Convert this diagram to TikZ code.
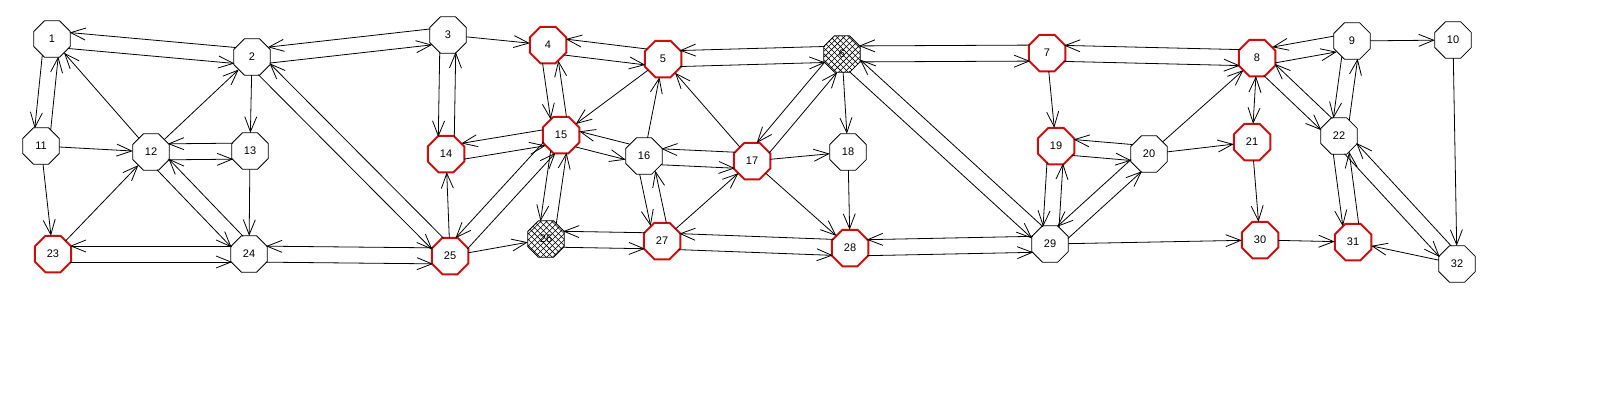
\documentclass[tikz,border=0pt]{standalone}
\usepackage{fontspec}
\setmainfont{Liberation Sans}
\usetikzlibrary{arrows.meta,calc,shapes.geometric,patterns.meta}
\definecolor{nodered}{RGB}{200,16,16}
\newcommand\dbl[2]{%
  \draw[sedge] ($(#1)!8pt!-90:(#2)$) -- ($(#2)!8pt!90:(#1)$);
  \draw[sedge] ($(#2)!8pt!-90:(#1)$) -- ($(#1)!8pt!90:(#2)$);}
\newcommand\sgl[2]{\draw[edge] (#1) -- (#2);}
\begin{document}
\begin{tikzpicture}[x=1pt,y=-1pt,
  oct/.style={regular polygon,regular polygon sides=8,minimum size=39.5pt,inner sep=0pt,outer sep=0pt,
    draw=black,line width=0.8pt,fill=white,font=\fontsize{11}{13}\selectfont},
  redoct/.style={oct,draw=nodered,line width=2pt},
  hatchoct/.style={oct,preaction={fill=white},pattern={Hatch[angle=45,distance=4.2pt,line width=0.55pt]}},
  edge/.style={-{Straight Barb[length=15pt,width=12pt]},line width=0.8pt},
  sedge/.style={edge,shorten >=16.9pt,shorten <=16.9pt}]
\useasboundingbox[fill=white] (0,0) rectangle (1600,400);
% nodes
\node[oct]    (n1)  at (52,39)   {1};
\node[oct]    (n2)  at (252,57)  {2};
\node[oct]    (n3)  at (448,35)  {3};
\node[redoct] (n4)  at (548,45)  {4};
\node[redoct] (n5)  at (663,59)  {5};
\node[hatchoct] (n6) at (842,54) {6};
\node[redoct] (n7)  at (1047,53) {7};
\node[redoct] (n8)  at (1257,58) {8};
\node[oct]    (n9)  at (1352,41) {9};
\node[oct]    (n10) at (1453,40) {10};
\node[oct]    (n11) at (41,146)  {11};
\node[oct]    (n12) at (151,152) {12};
\node[oct]    (n13) at (250,151) {13};
\node[redoct] (n14) at (446,154) {14};
\node[redoct] (n15) at (561,135) {15};
\node[oct]    (n16) at (644,156) {16};
\node[redoct] (n17) at (752,161) {17};
\node[oct]    (n18) at (848,152) {18};
\node[redoct] (n19) at (1056,146) {19};
\node[oct]    (n20) at (1149,154) {20};
\node[redoct] (n21) at (1252,142) {21};
\node[oct]    (n22) at (1339,136) {22};
\node[redoct] (n23) at (53,254)  {23};
\node[oct]    (n24) at (249,254) {24};
\node[redoct] (n25) at (450,256) {25};
\node[hatchoct] (n26) at (546,239) {26};
\node[redoct] (n27) at (662,241) {27};
\node[redoct] (n28) at (850,248) {28};
\node[oct]    (n29) at (1050,244) {29};
\node[redoct] (n30) at (1260,240) {30};
\node[redoct] (n31) at (1353,242) {31};
\node[oct]    (n32) at (1457,264) {32};
% two-way links
\dbl{n1}{n2} \dbl{n2}{n3} \dbl{n1}{n11} \dbl{n12}{n13} \dbl{n12}{n24}
\dbl{n23}{n24} \dbl{n2}{n25} \dbl{n24}{n25} \dbl{n3}{n14} \dbl{n4}{n5}
\dbl{n4}{n15} \dbl{n5}{n6} \dbl{n14}{n15} \dbl{n15}{n25} \dbl{n15}{n26}
\dbl{n15}{n16} \dbl{n16}{n17} \dbl{n16}{n27} \dbl{n17}{n6} \dbl{n26}{n27}
\dbl{n27}{n28} \dbl{n6}{n29} \dbl{n6}{n7} \dbl{n7}{n8} \dbl{n19}{n20}
\dbl{n19}{n29} \dbl{n20}{n29} \dbl{n28}{n29} \dbl{n8}{n9} \dbl{n9}{n22}
\dbl{n8}{n22} \dbl{n22}{n31} \dbl{n22}{n32}
% one-way links
\sgl{n12}{n1} \sgl{n11}{n12} \sgl{n11}{n23} \sgl{n12}{n2} \sgl{n23}{n12}
\sgl{n2}{n13} \sgl{n13}{n24} \sgl{n25}{n14} \sgl{n3}{n4} \sgl{n5}{n15}
\sgl{n16}{n5} \sgl{n17}{n5} \sgl{n27}{n17} \sgl{n17}{n18} \sgl{n17}{n28}
\sgl{n6}{n18} \sgl{n18}{n28} \sgl{n25}{n26} \sgl{n7}{n19} \sgl{n20}{n8}
\sgl{n20}{n21} \sgl{n21}{n30} \sgl{n29}{n30} \sgl{n30}{n31}
\sgl{n9}{n10} \sgl{n10}{n32} \sgl{n32}{n31}
\draw[edge,{Straight Barb[length=15pt,width=12pt]}-{Straight Barb[length=15pt,width=12pt]}] (n8) -- (n21);
\end{tikzpicture}
\end{document}
